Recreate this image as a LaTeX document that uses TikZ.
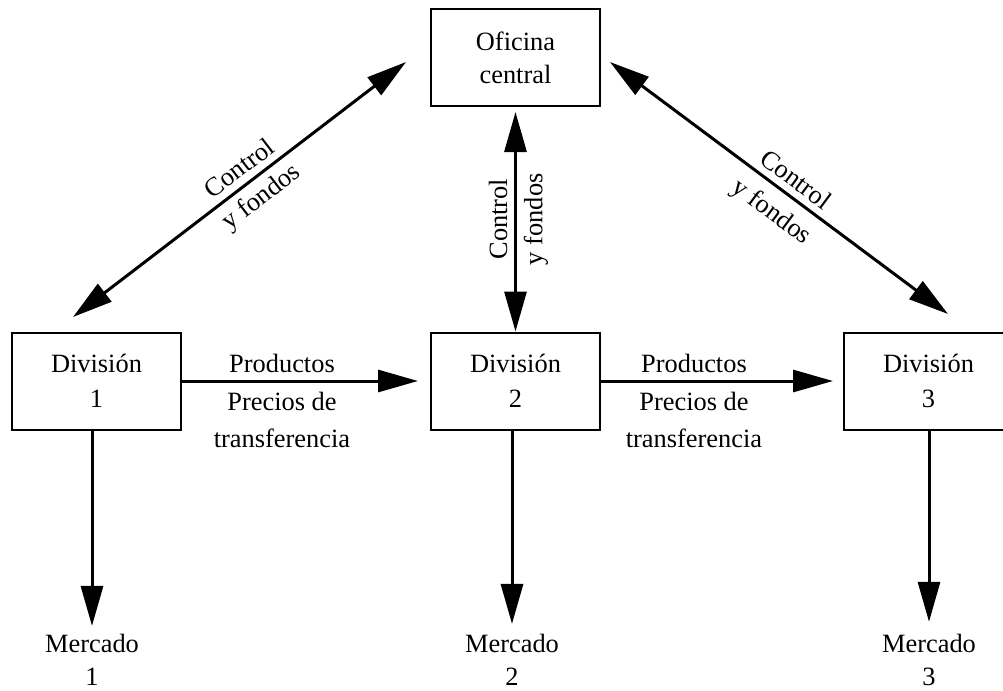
\documentclass[tikz,border=0pt]{standalone}
\usepackage{fontspec}
\setmainfont{Liberation Serif}
\usetikzlibrary{arrows.meta, positioning, calc}

\begin{document}
\begin{tikzpicture}[
    x=0.5pt, y=-0.5pt,
    font=\fontsize{13.2}{16.5}\selectfont,
    unit/.style={
      draw,
      line width=1pt,
      minimum width=84.5pt,
      minimum height=48.5pt,
      inner sep=0pt,
      align=center,
    },
    market/.style={
      align=center,
      inner sep=0pt,
    },
    link/.style={
      line width=1.5pt,
      -{Triangle[length=20pt,width=11pt]},
    },
    twoway/.style={
      line width=1.5pt,
      {Triangle[length=20pt,width=11pt]}-{Triangle[length=20pt,width=11pt]},
    },
  ]
    \clip (0,0) rectangle (1003,691);
    \node[unit] (hq) at (515.5,57.5) {Oficina\\central};
    \node[unit] (div1) at (96.5,381) {División\\[1pt]1};
    \node[unit] (div2) at (515.5,381) {División\\[1pt]2};
    \node[unit] (div3) at (928.5,381) {División\\[1pt]3};
    \node[market] (mkt1) at (92,660) {Mercado\\1};
    \node[market] (mkt2) at (512,660) {Mercado\\2};
    \node[market] (mkt3) at (929,660) {Mercado\\3};
    \draw[twoway] ($(div1.north)+(-23.5,-14.5)$) -- ($(hq.west)+(-24,4.5)$)
      node[pos=0.53, sloped, above] {Control}
      node[pos=0.53, sloped, below] {y fondos};
    \draw[twoway] ($(hq.east)+(9,4.5)$) -- ($(div3.north)+(19.5,-17.5)$)
      node[pos=0.52, sloped, above] {Control}
      node[pos=0.52, sloped, below=2pt] {y fondos};
    \draw[twoway, shorten <=2.5pt] (hq.south) -- (div2.north)
      node[midway, rotate=90, anchor=south] {Control}
      node[midway, rotate=90, anchor=north] {y fondos};
    \draw[link, shorten >=6pt] (div1.east) -- (div2.west)
      node[midway, above, xshift=-12pt] {Productos}
      node[midway, below=1.5pt, xshift=-12pt, align=center] {Precios de\\[2pt]transferencia};
    \draw[link, shorten >=5pt] (div2.east) -- (div3.west)
      node[midway, above, xshift=-14pt] {Productos}
      node[midway, below=1.5pt, xshift=-14pt, align=center] {Precios de\\[2pt]transferencia};
    \draw[link, shorten >=4pt] (mkt1.north |- div1.south) -- (mkt1.north);
    \draw[link, shorten >=5pt] (mkt2.north |- div2.south) -- (mkt2.north);
    \draw[link, shorten >=6pt] (mkt3.north |- div3.south) -- (mkt3.north);
  \end{tikzpicture}
\end{document}
